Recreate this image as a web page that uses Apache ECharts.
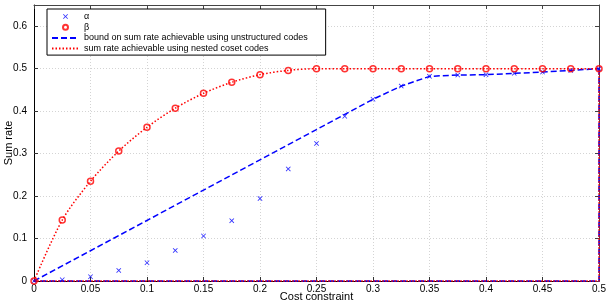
<!DOCTYPE html>
<html>
<head>
<meta charset="utf-8">
<script src="https://cdn.jsdelivr.net/npm/echarts@6/dist/echarts.min.js"></script>
<style>html,body{margin:0;padding:0;background:#fff}#c{width:609px;height:305px}</style>
</head>
<body>
<div id="c"></div>
<script>
// ---- data ----
var costX = [0,0.025,0.05,0.075,0.1,0.125,0.15,0.175,0.2,0.225,0.25,0.275,0.3,0.325,0.35,0.375,0.4,0.425,0.45,0.475,0.5];
var alphaVals = [0,0.003,0.010,0.025,0.043,0.072,0.106,0.142,0.194,0.264,0.324,0.388,0.428,0.459,0.482,0.485,0.486,0.489,0.492,0.496,0.5];
var betaVals = [0,0.1435,0.235,0.306,0.362,0.407,0.442,0.468,0.486,0.496,0.5,0.5,0.5,0.5,0.5,0.5,0.5,0.5,0.5,0.5,0.5];
var boundX = [0,0.3,0.325,0.35,0.375,0.4,0.425,0.45,0.475,0.5];
var boundY = [0,0.428,0.459,0.482,0.485,0.486,0.489,0.492,0.496,0.5];
var closeX = [0.5,0.5,0];
var closeY = [0.5,0,0];
var xTicks = [0,0.05,0.1,0.15,0.2,0.25,0.3,0.35,0.4,0.45,0.5];
var yTicks = [0,0.1,0.2,0.3,0.4,0.5,0.6];
var names = ['\u03b1','\u03b2','bound on sum rate achievable using unstructured codes','sum rate achievable using nested coset codes'];

function zip(a,b){return a.map(function(v,i){return [v,b[i]];});}
var FONT = '"Liberation Sans", Arial, sans-serif';
var xMark = 'path://M0,1.2L1.2,0L5,3.8L8.8,0L10,1.2L6.2,5L10,8.8L8.8,10L5,6.2L1.2,10L0,8.8L3.8,5Z';
var blueDash = {color:'#0000ff', width:1.5, type:[6,3]};
var redDot = {color:'#ff0000', width:1.5, type:[1.5,2]};

var chart = echarts.init(document.getElementById('c'), null, {renderer:'canvas'});
chart.setOption({
  animation:false,
  backgroundColor:'#fff',
  textStyle:{fontFamily:FONT},
  grid:{left:34, right:10, top:5, bottom:24, containLabel:false, outerBoundsMode:'none'},
  legend:{
    data:[{name:names[0]},{name:names[1]},
          {name:names[2], itemStyle:{opacity:0}},{name:names[3], itemStyle:{opacity:0}}],
    orient:'vertical', left:47, top:9,
    itemWidth:27, itemHeight:5, itemGap:0.7,
    padding:[2.5,18,1.5,4],
    borderColor:'#000', borderWidth:1, backgroundColor:'#fff',
    textStyle:{fontFamily:FONT, fontSize:9, color:'#000', lineHeight:10},
    selectedMode:false
  },
  xAxis:[{
    type:'value', min:0, max:0.5, interval:0.05,
    name:'Cost constraint', nameLocation:'middle', nameGap:10, nameMoveOverlap:false,
    nameTextStyle:{fontFamily:FONT, fontSize:11, color:'#000'},
    axisLine:{show:true, lineStyle:{color:'#000', width:1}},
    axisTick:{show:true, inside:true, length:4, lineStyle:{color:'#333'}},
    axisLabel:{fontFamily:FONT, fontSize:10, color:'#000', margin:3,
      formatter:function(v){return String(+v.toFixed(3));}},
    splitLine:{show:true, lineStyle:{color:'#d4d4d4', type:[1,2], width:1}}
  },{
    type:'value', position:'top', min:0, max:0.5, interval:0.05,
    axisLine:{show:true, onZero:false, lineStyle:{color:'#444', width:1}},
    axisTick:{show:true, inside:true, length:4, lineStyle:{color:'#444'}},
    axisLabel:{show:false}, splitLine:{show:false}
  }],
  yAxis:[{
    type:'value', min:0, max:0.65, interval:0.1,
    name:'Sum rate', nameLocation:'middle', nameGap:20, nameMoveOverlap:false,
    nameTextStyle:{fontFamily:FONT, fontSize:11, color:'#000'},
    axisLine:{show:true, lineStyle:{color:'#000', width:1}},
    axisTick:{show:true, inside:true, length:4, lineStyle:{color:'#333'}},
    axisLabel:{fontFamily:FONT, fontSize:10, color:'#000', margin:7, showMaxLabel:false,
      formatter:function(v){return yTicks.indexOf(+v.toFixed(3))>=0 ? String(+v.toFixed(3)) : '';}},
    splitLine:{show:true, lineStyle:{color:'#d4d4d4', type:[1,2], width:1}}
  },{
    type:'value', position:'right', min:0, max:0.65, interval:0.1,
    axisLine:{show:true, onZero:false, lineStyle:{color:'#444', width:1}},
    axisTick:{show:true, inside:true, length:4, lineStyle:{color:'#444'}},
    axisLabel:{show:false}, splitLine:{show:false}
  }],
  series:[
    {name:names[0], type:'scatter', data:zip(costX, alphaVals), symbol:xMark, symbolSize:5,
     itemStyle:{color:'#0000ff'}, z:5},
    {name:names[1], type:'scatter', data:zip(costX, betaVals), symbol:'circle', symbolSize:6,
     itemStyle:{color:'rgba(0,0,0,0)', borderColor:'#ff0000', borderWidth:1.5}, z:6},
    {name:names[2], type:'line', data:zip(boundX, boundY), symbol:'none', lineStyle:blueDash,
     itemStyle:{color:'#0000ff'}, clip:false, z:3},
    {name:names[3], type:'line', data:zip(costX, betaVals), symbol:'none', smooth:0.3, lineStyle:redDot,
     itemStyle:{color:'#ff0000'}, clip:false, z:4},
    {name:'boundClose', type:'line', data:zip(closeX, closeY), symbol:'none', lineStyle:blueDash, clip:false, z:3},
    {name:'rateClose', type:'line', data:zip(closeX, closeY), symbol:'none', lineStyle:{color:'#ff0000', width:1.5, type:[1.5,1.5], dashOffset:1.5}, clip:false, z:4}
  ]
});
</script>
</body>
</html>
